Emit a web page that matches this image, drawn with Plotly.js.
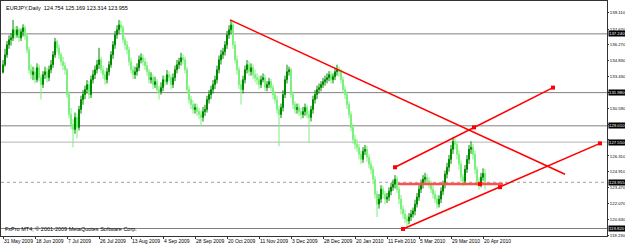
<!DOCTYPE html>
<html><head><meta charset="utf-8">
<script src="https://cdn.plot.ly/plotly-3.0.1.min.js"></script>
<style>html,body{margin:0;padding:0;background:#fff}#chart{width:625px;height:246px}</style>
</head><body><div id="chart"></div>
<script>
const open=[133.80,134.48,135.37,136.26,136.71,136.88,137.60,137.15,137.60,136.88,
137.42,137.78,137.06,135.82,134.03,133.59,133.85,133.14,134.21,133.32,
132.70,133.59,133.85,133.32,134.03,134.48,135.37,136.53,135.99,135.37,
134.75,134.39,134.03,131.81,130.02,129.13,128.69,129.76,128.87,130.47,
131.36,131.81,132.25,132.70,131.81,133.14,133.59,134.03,134.48,134.92,
134.03,133.59,133.14,133.85,134.48,135.37,136.26,137.15,137.60,138.04,
137.78,136.71,136.26,135.82,134.75,134.03,133.59,133.85,134.21,134.92,
135.10,134.75,134.39,133.85,133.14,133.32,132.70,132.96,132.25,132.07,
132.43,133.14,132.96,133.59,133.32,132.70,133.32,134.03,134.48,134.75,
135.10,134.92,134.03,132.25,131.36,130.91,130.47,130.65,130.29,130.02,
129.76,130.29,130.47,131.36,131.81,132.25,132.70,133.14,134.03,134.92,
135.37,135.64,136.26,137.15,137.60,138.04,136.26,134.92,134.03,132.70,
132.25,133.14,134.03,134.48,133.85,134.21,133.59,133.32,133.14,132.70,
133.14,133.32,132.43,132.70,132.96,132.43,131.81,131.36,130.47,130.02,
130.65,131.81,133.14,133.85,134.03,131.81,130.91,130.47,130.65,130.29,
130.02,130.29,130.65,130.02,129.76,130.47,131.36,131.81,132.25,132.43,
132.70,132.96,133.14,133.32,133.59,133.14,133.41,133.85,134.03,133.85,
133.14,132.25,131.81,130.91,130.02,128.87,127.80,127.35,127.08,126.46,
126.01,126.73,126.91,126.19,125.57,125.12,124.23,122.90,122.00,122.45,
123.34,122.90,122.45,122.63,123.16,123.52,123.79,124.23,123.34,122.45,
121.56,121.11,120.67,120.49,120.85,121.11,121.38,122.00,122.63,123.34,
123.79,124.23,124.41,124.05,123.79,123.34,122.90,122.45,122.00,122.45,
123.16,123.79,124.68,125.30,126.01,126.91,127.62,127.35,126.46,125.57,
124.41,124.05,125.12,126.01,126.91,127.08,126.46,125.12,124.05,123.79,
124.41,124.754];
const high=[134.90,135.90,136.60,137.10,137.30,138.49,137.90,137.95,137.80,137.70,
138.10,138.00,137.30,136.10,134.50,134.30,134.20,134.60,134.50,133.60,
133.90,134.30,134.20,134.40,134.90,135.70,136.88,136.70,136.30,135.60,
135.20,134.70,134.20,132.10,130.60,129.60,130.20,130.10,130.80,131.70,
132.20,132.60,133.10,133.00,133.50,134.00,134.40,134.90,135.99,135.20,
134.40,133.90,134.20,134.80,135.70,136.60,137.50,138.00,138.49,138.40,
138.00,137.00,136.60,136.10,135.10,134.40,134.30,134.60,135.30,135.50,
135.40,135.10,134.70,134.10,133.80,133.60,133.40,133.20,132.60,132.90,
133.50,133.50,134.00,133.90,133.60,133.70,134.40,134.90,135.10,135.55,
135.40,135.20,134.30,132.60,131.70,131.30,131.00,131.00,130.60,130.40,
130.70,130.90,131.70,132.20,132.60,133.10,133.50,134.40,135.30,135.80,
136.00,136.60,137.50,138.00,138.49,138.30,136.60,135.30,134.30,133.10,
133.50,134.40,134.90,134.80,134.60,134.50,134.00,133.70,133.50,133.50,
133.70,133.60,133.00,133.30,133.20,132.70,132.10,131.70,130.80,131.00,
132.20,133.50,134.48,134.30,134.20,132.10,131.20,131.00,131.00,130.60,
130.70,131.00,130.90,130.40,130.80,131.70,132.20,132.60,132.80,133.00,
133.30,133.50,133.70,133.90,133.90,133.70,134.20,134.48,134.30,134.10,
133.40,132.60,132.10,131.20,130.30,129.20,128.20,127.80,127.40,126.80,
127.10,127.30,127.20,126.50,125.90,125.40,124.50,123.20,122.90,123.70,
123.60,123.20,123.00,123.50,123.90,124.20,124.60,124.50,123.60,122.80,
121.90,121.50,121.00,121.20,121.50,121.70,122.40,123.00,123.70,124.20,
124.60,124.80,124.70,124.40,124.10,123.70,123.20,122.80,122.80,123.50,
124.10,125.00,125.70,126.40,127.30,127.98,127.90,127.60,126.80,125.90,
124.70,125.50,126.40,127.30,127.62,127.40,126.80,125.40,124.40,124.80,
125.20,125.169];
const low=[133.70,134.30,135.10,135.90,136.20,136.60,136.80,136.90,136.50,136.60,
137.00,136.70,135.50,133.70,133.20,133.10,132.80,132.90,133.00,131.36,
132.40,133.20,132.90,133.00,133.70,134.20,135.10,135.60,135.00,134.40,
134.00,133.60,131.50,129.70,128.70,127.08,128.30,127.90,128.60,130.10,
130.90,131.40,131.90,131.40,131.50,132.80,133.20,133.70,134.10,133.70,
133.20,132.70,132.80,133.50,134.20,135.00,135.90,136.80,137.20,137.40,
136.40,135.80,135.40,134.40,133.70,133.20,133.20,133.50,133.90,134.60,
134.40,134.00,133.50,132.80,132.80,132.30,132.40,131.90,131.36,131.80,
132.10,132.60,132.70,133.00,132.30,132.40,133.00,133.70,134.10,134.40,
134.50,133.70,131.90,131.00,130.50,130.10,130.10,129.90,129.60,128.95,
129.40,129.90,130.20,131.00,131.40,131.90,132.30,132.80,133.70,134.50,
135.00,135.30,135.90,136.80,137.20,135.90,134.60,133.60,132.30,130.91,
131.90,132.80,133.70,133.50,133.50,133.20,132.90,132.70,132.30,132.40,
132.90,132.10,132.10,132.40,132.10,131.40,131.00,130.10,127.17,129.70,
130.30,131.50,132.80,133.50,131.50,130.50,130.10,130.10,129.90,129.60,
129.70,129.90,129.70,127.53,129.40,130.10,131.00,131.40,131.90,132.10,
132.40,132.60,132.80,133.00,132.80,132.80,133.10,133.50,133.40,132.80,
131.90,131.40,130.50,129.70,128.50,127.40,126.90,126.70,126.00,125.60,
125.70,126.40,125.80,125.20,124.70,123.80,122.50,120.85,121.60,122.10,
122.50,122.00,122.10,122.30,122.80,123.20,123.40,123.00,122.00,121.10,
120.70,120.30,119.96,120.20,120.50,120.80,121.00,121.70,122.30,123.00,
123.40,123.90,123.70,123.40,123.00,122.50,122.10,121.60,121.70,122.10,
122.80,123.40,124.30,124.90,125.60,126.50,126.90,126.00,125.10,124.00,
123.60,123.70,124.80,125.60,126.50,126.00,124.70,123.60,123.30,123.50,
124.10,123.314];
const close=[134.48,135.37,136.26,136.71,136.88,137.60,137.15,137.60,136.88,137.42,
137.78,137.06,135.82,134.03,133.59,133.85,133.14,134.21,133.32,132.70,
133.59,133.85,133.32,134.03,134.48,135.37,136.53,135.99,135.37,134.75,
134.39,134.03,131.81,130.02,129.13,128.69,129.76,128.87,130.47,131.36,
131.81,132.25,132.70,131.81,133.14,133.59,134.03,134.48,134.92,134.03,
133.59,133.14,133.85,134.48,135.37,136.26,137.15,137.60,138.04,137.78,
136.71,136.26,135.82,134.75,134.03,133.59,133.85,134.21,134.92,135.10,
134.75,134.39,133.85,133.14,133.32,132.70,132.96,132.25,132.07,132.43,
133.14,132.96,133.59,133.32,132.70,133.32,134.03,134.48,134.75,135.10,
134.92,134.03,132.25,131.36,130.91,130.47,130.65,130.29,130.02,129.76,
130.29,130.47,131.36,131.81,132.25,132.70,133.14,134.03,134.92,135.37,
135.64,136.26,137.15,137.60,138.04,136.26,134.92,134.03,132.70,132.25,
133.14,134.03,134.48,133.85,134.21,133.59,133.32,133.14,132.70,133.14,
133.32,132.43,132.70,132.96,132.43,131.81,131.36,130.47,130.02,130.65,
131.81,133.14,133.85,134.03,131.81,130.91,130.47,130.65,130.29,130.02,
130.29,130.65,130.02,129.76,130.47,131.36,131.81,132.25,132.43,132.70,
132.96,133.14,133.32,133.59,133.14,133.41,133.85,134.03,133.85,133.14,
132.25,131.81,130.91,130.02,128.87,127.80,127.35,127.08,126.46,126.01,
126.73,126.91,126.19,125.57,125.12,124.23,122.90,122.00,122.45,123.34,
122.90,122.45,122.63,123.16,123.52,123.79,124.23,123.34,122.45,121.56,
121.11,120.67,120.49,120.85,121.11,121.38,122.00,122.63,123.34,123.79,
124.23,124.41,124.05,123.79,123.34,122.90,122.45,122.00,122.45,123.16,
123.79,124.68,125.30,126.01,126.91,127.62,127.35,126.46,125.57,124.41,
124.05,125.12,126.01,126.91,127.08,126.46,125.12,124.05,123.79,124.41,
124.75,123.955];

const dateTickPos=[0,16,32,48,64,80,96,112,128,144,160,176,192,208,224,240];
const dateTickText=["31 May 2009","18 Jun 2009","7 Jul 2009","26 Jul 2009","13 Aug 2009","4 Sep 2009","28 Sep 2009","20 Oct 2009","11 Nov 2009","3 Dec 2009","28 Dec 2009","20 Jan 2010","11 Feb 2010","5 Mar 2010","29 Mar 2010","20 Apr 2010"];
const priceTicks=[119.23,120.63,122.07,123.47,124.91,126.31,127.75,129.15,130.59,131.99,133.43,134.83,136.27,137.67,139.11];
const priceTickText=["119.230","120.630","122.070","123.470","124.910","126.310","","","130.590","","133.430","134.830","136.270","137.670","139.110"];
const hLevels=[137.24,131.98,129.01,127.55,119.82];
const hColors=['#808080','#808080','#808080','#b4b4b4','#808080'];
const bidPrice=123.955;

// trend lines: start/end (bar index, price)
const trendX0=[113.5,196,200,197.5];
const trendY0=[138.49,125.30,119.78,123.80];
const trendX1=[281,275,298.5,250];
const trendY1=[124.68,132.43,127.44,123.80];
const trendW=[1.6,1.6,1.6,2.6];
const trendC=['#ff0000','#ff0000','#ff0000','#ff5050'];
const anchorX=[196,275,235.5,200,298.5,248.5,238.5];
const anchorY=[125.30,132.43,128.87,119.78,127.44,123.52,123.80];

const idx=close.map((_,i)=>i);
const traces=[{
  type:'candlestick',x:idx,open:open,high:high,low:low,close:close,
  increasing:{line:{color:'#008a00',width:1},fillcolor:'#008a00'},
  decreasing:{line:{color:'#7cf07c',width:1},fillcolor:'#7cf07c'},
  whiskerwidth:0,hoverinfo:'skip',showlegend:false
}];
for(let k=0;k<trendX0.length;k++){
  traces.push({type:'scatter',mode:'lines',x:[trendX0[k],trendX1[k]],y:[trendY0[k],trendY1[k]],
    line:{color:trendC[k],width:trendW[k]},hoverinfo:'skip',showlegend:false});
}
traces.push({type:'scatter',mode:'markers',x:anchorX,y:anchorY,
  marker:{symbol:'square',size:4,color:'#ff0000'},hoverinfo:'skip',showlegend:false});

const shapes=hLevels.map((v,k)=>({type:'line',xref:'paper',x0:0,x1:1,yref:'y',y0:v,y1:v,
  line:{color:hColors[k],width:1},layer:'below'}));
shapes.push({type:'line',xref:'paper',x0:0,x1:1,yref:'y',y0:bidPrice,y1:bidPrice,
  line:{color:'#a0a0a0',width:1,dash:'dot'},layer:'below'});

const annotations=hLevels.concat([bidPrice]).map(v=>({xref:'paper',x:1,xanchor:'left',xshift:1,
  yref:'y',y:v,yanchor:'middle',text:v.toFixed(3),showarrow:false,bgcolor:'#000',
  font:{family:'Liberation Sans, Arial',size:4.3,color:'#fff'},borderpad:0}));
annotations.push({xref:'paper',yref:'paper',x:0,y:1,xanchor:'left',yanchor:'top',xshift:3,yshift:-2,
  text:'EURJPY,Daily  124.754 125.169 123.314 123.955',showarrow:false,
  font:{family:'Liberation Sans, Arial',size:5.5,color:'#000'}});
annotations.push({xref:'paper',yref:'paper',x:0,y:0,xanchor:'left',yanchor:'bottom',xshift:2,yshift:2,
  text:'FxPro MT4, © 2001-2009 MetaQuotes Software Corp.',showarrow:false,
  font:{family:'Liberation Sans, Arial',size:5.5,color:'#000'}});

const layout={
  width:625,height:246,margin:{l:1,r:18,t:1,b:10,pad:0},
  paper_bgcolor:'#fff',plot_bgcolor:'#fff',showlegend:false,
  xaxis:{type:'linear',range:[-1,302],tickmode:'array',tickvals:dateTickPos,ticktext:dateTickText,
    tickangle:0,automargin:false,
    ticks:'outside',ticklen:2,tickcolor:'#333',showgrid:false,zeroline:false,
    showline:true,linecolor:'#333',linewidth:1,mirror:true,
    ticklabelposition:'outside right',ticklabelstandoff:0,tickfont:{family:'Liberation Sans, Arial',size:5,color:'#000'},
    rangeslider:{visible:false},fixedrange:true},
  yaxis:{side:'right',range:[119.15,140.18],tickmode:'array',tickvals:priceTicks,ticktext:priceTickText,
    ticks:'outside',ticklen:1,tickcolor:'#333',showgrid:false,zeroline:false,
    showline:true,linecolor:'#333',linewidth:1,mirror:true,ticklabelstandoff:0,
    tickfont:{family:'Liberation Sans, Arial',size:4.3,color:'#000'},automargin:false,fixedrange:true},
  shapes:shapes,annotations:annotations
};
Plotly.newPlot('chart',traces,layout,{staticPlot:true,displayModeBar:false});
</script></body></html>
